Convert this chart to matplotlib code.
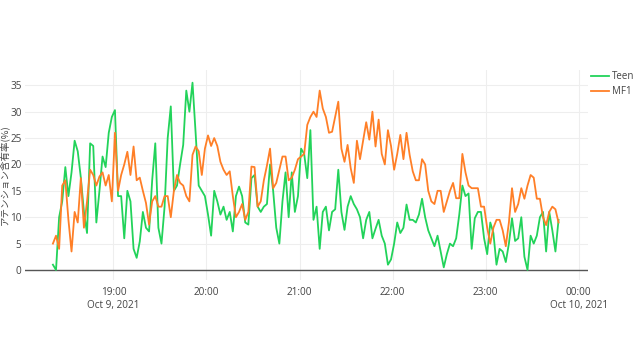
import numpy as np
import pandas as pd
import matplotlib
matplotlib.use("Agg")
import matplotlib.pyplot as plt

plt.rcParams['font.family'] = ['Open Sans', 'Noto Sans CJK JP', 'DejaVu Sans']

# attention share (%), sampled every 2 minutes from 18:21
teen = [1, 0, 10, 13, 19.5, 14, 18.5, 24.5, 22.5, 17.5, 11, 7, 24, 23.5, 9, 15, 21.5, 19.5, 26, 29,
        30.3, 14, 14, 6, 15, 13, 4, 2.3, 5.4, 11, 8, 7.3, 17, 24, 8, 5, 12, 25, 31, 15,
        16, 20, 23.7, 34, 30, 35.5, 26, 16, 15, 14, 10.5, 6.5, 15, 13, 10.5, 12, 9.5, 11, 7.3, 14,
        15.8, 14, 9, 8.6, 17.4, 18, 12, 11, 12, 12.5, 20, 15, 8, 5, 13, 18.5, 10, 18.5, 11, 14,
        23, 22, 17.4, 26.5, 9.5, 12, 4, 11, 12, 7.5, 11, 11.5, 19, 11, 7.6, 12, 14, 12.5, 11.5, 10,
        6, 9.5, 11, 6, 7.8, 9.5, 6.5, 5, 1, 2, 5, 9, 7, 8, 12.4, 9.5, 9.5, 9, 10.5, 13.5,
        10, 7.5, 6, 4.5, 6.5, 3.5, 0.5, 3, 5, 4.5, 6, 10.5, 16, 14, 14.5, 4, 9.8, 11, 11, 6,
        3, 9, 7, 1, 4, 3.5, 1.5, 5, 9.8, 5.5, 6, 10, 2.5, 0, 6.5, 5, 6.5, 10, 11, 3.5,
        11, 7.5, 3.5, 9.5]
mf1 = [5, 6.5, 4, 16, 17, 9.5, 3.5, 11, 9, 17.4, 8, 13, 19, 18, 16, 17.7, 18.5, 16, 18, 13,
       26, 15, 18, 20, 22.4, 18, 23.4, 17, 17.5, 15, 12.7, 8.6, 13, 14, 12, 12, 14, 14, 10, 15,
       18, 16.5, 16, 14, 13, 21.8, 23.4, 22.5, 18, 23, 25.5, 23.5, 25, 23.5, 20.5, 19, 18, 18.7, 14, 10,
       11, 12.5, 9.5, 11, 19.6, 19.5, 12, 13, 17, 19.8, 23, 15.5, 16.5, 19, 21.5, 21.5, 17, 17.5, 19, 21,
       21.5, 22, 27.5, 29, 30, 29, 34, 30.6, 29, 26, 26.2, 29, 31.9, 23, 20.5, 23.7, 19.3, 16.5, 24.5, 21,
       24.5, 28, 24.7, 30, 23.4, 28.5, 22, 20, 26.5, 23.5, 19, 22, 25.6, 21, 26, 21.8, 18.7, 17, 17, 21,
       20, 15, 13, 12.5, 15, 15, 11, 13, 15, 16.5, 13.6, 13.6, 22, 18.5, 16, 15.5, 15.5, 15.5, 12, 12,
       8, 5, 8, 9.5, 9.5, 7.5, 4.5, 9, 15.5, 11, 12.5, 15.5, 13.5, 16, 18, 17.5, 13.5, 13.5, 10, 8.5,
       11, 12, 11.5, 9]

times = pd.date_range('2021-10-09 18:21', periods=len(teen), freq='2min')

tick_times = pd.date_range('2021-10-09 19:00', '2021-10-10 00:00', freq='1h')
tick_labels = ['19:00\nOct 9, 2021', '20:00', '21:00', '22:00', '23:00', '00:00\nOct 10, 2021']
y_ticks = [0, 5, 10, 15, 20, 25, 30, 35]

fig = plt.figure(figsize=(6.4, 3.6), dpi=100)
ax = fig.add_axes([25 / 640, 1 - 280 / 360, 563 / 640, 210 / 360])

ax.plot(times, teen, color='#22D35A', lw=1.3, label='Teen')
ax.plot(times, mf1, color='#FF7F27', lw=1.3, label='MF1')

ax.set_xlim(pd.Timestamp('2021-10-09 18:03'), pd.Timestamp('2021-10-10 00:06'))
ax.set_ylim(-1.9, 37.9)
ax.set_xticks(tick_times)
ax.set_xticklabels(tick_labels, fontsize=7.2, color='#444444')
ax.set_yticks(y_ticks)
ax.set_yticklabels([str(v) for v in y_ticks], fontsize=7.2, color='#444444')
ax.tick_params(axis='x', length=0, pad=5)
ax.tick_params(axis='y', length=0, pad=2.5)
ax.grid(color='#EEEEEE', lw=0.8)
ax.set_axisbelow(True)
ax.axhline(0, color='#555555', lw=1, zorder=1)
for s in ax.spines.values():
    s.set_visible(False)

ax.set_ylabel('アテンション含有率(%)', fontsize=6.8, color='#444444',
              family=['Noto Sans CJK JP', 'DejaVu Sans'], va='center')
ax.yaxis.set_label_coords(-20.5 / 563, 0.5)

fig.legend(loc='upper left', bbox_to_anchor=(591 / 640, 1 - 71 / 360), frameon=False,
           fontsize=7, handlelength=1.8, handletextpad=0.35, labelspacing=0.45,
           borderaxespad=0, borderpad=0, labelcolor='#444444')

fig.savefig('out.png', dpi=100, facecolor='white')
